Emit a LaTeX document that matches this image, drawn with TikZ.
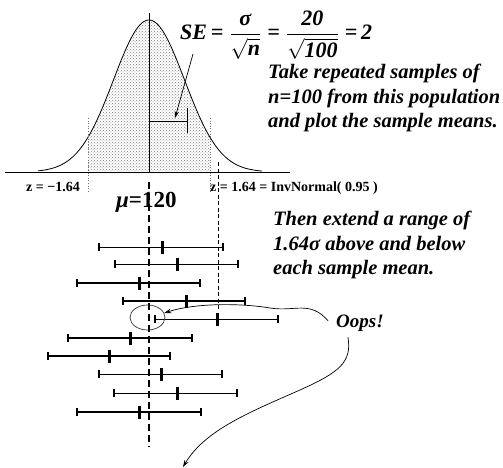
\documentclass[tikz,border=0pt]{standalone}
\usepackage{amsmath}
\usepackage{fontspec}
\setmainfont{Liberation Serif}
\usetikzlibrary{shapes.geometric, arrows.meta, positioning, calc, patterns}

\begin{document}
\begin{tikzpicture}[
    x=1pt, y=-1pt,
    txt/.style={font=\fontsize{20.5}{24.5}\selectfont\bfseries\itshape, align=left, inner sep=0pt, anchor=north west},
    zlab/.style={font=\fontsize{14}{16}\selectfont\bfseries, inner sep=0pt, anchor=base west},
    arrow/.style={-{Stealth[length=7pt, width=4.5pt]}, line width=0.7pt},
    bell/.style={line width=0.8pt},
    edge/.style={black!55, dotted, line width=0.6pt}
]
\useasboundingbox (0,0) rectangle (503,468);

\fill[pattern=crosshatch dots, pattern color=black!50] (88,172) -- plot[domain=88:210, samples=60] (\x, {172-152*exp(-(\x-149)*(\x-149)/2520)}) -- (210,172) -- cycle;
\draw[bell] plot[domain=38:262, samples=120, smooth] (\x, {172-152*exp(-(\x-149)*(\x-149)/2520)});
\draw[edge] (88,118) -- (88,193);
\draw[edge] (210,118) -- (210,193);
\draw[line width=0.9pt] (5,172) -- (290,172);
\draw[line width=0.9pt] (149,13) -- (149,172);
\draw[line width=1.6pt, dash pattern=on 7pt off 4pt] (149,182) -- (149,447);
\draw[line width=0.8pt, dash pattern=on 4pt off 2.5pt] (218,162) -- (218,310);

\draw[line width=0.9pt] (149,121) -- (187,121) (187,108) -- (187,133);

\node[inner sep=0pt, anchor=base west, font=\fontsize{22}{24}\selectfont\bfseries\itshape] (se) at (180,40)
    {SE\,=\;$\dfrac{\text{σ}}{\sqrt{\text{n}}}$\;=\;$\dfrac{\text{20}}{\sqrt{\text{100}}}$\;=\,2};
\coordinate (setail) at (193,54);
\coordinate (setip) at (175,118);
\draw[arrow] (setail) -- (setip);

\node[txt] (take) at (268,64) {Take repeated samples of\\n=100 from this population\\and plot the sample means.};
\node[zlab] (zlo) at (26,191) {z = −1.64};
\node[zlab] (zhi) at (210,191) {z = 1.64 = InvNormal( 0.95 )};
\node[inner sep=0pt, anchor=base west, font=\fontsize{23}{26}\selectfont\bfseries] (mu) at (116,207) {\textit{μ}=120};
\node[txt] (then) at (273,211) {Then extend a range of\\1.64σ above and below\\each sample mean.};

\foreach \ya/\xa/\xm/\xb/\lw in {247/99/162/223/0.8pt, 264/115/177/238/0.8pt, 283/77/139/200/1.1pt,
    301/123/186/245/2pt, 319/155/217/278/0.8pt, 338/68/130/192/1.1pt, 356/48/109/170/2pt,
    374/99/161/222/0.8pt, 393/114/177/237/0.8pt, 412/77/139/201/1.1pt}
{
    \draw[line width=\lw] (\xa,\ya) -- (\xb,\ya);
    \draw[line width=1.4pt] (\xa,\ya-4) -- (\xa,\ya+4) (\xb,\ya-4) -- (\xb,\ya+4);
    \draw[line width=3pt] (\xm,\ya-6.5) -- (\xm,\ya+6.5);
}

\node[draw=black!80, line width=0.7pt, ellipse, inner sep=0pt, minimum width=35pt, minimum height=25pt] (miss) at (147.5,317.5) {};
\node[inner sep=0pt, anchor=base west, font=\fontsize{19}{22}\selectfont\bfseries\itshape] (oops) at (336,327) {Oops!};
\coordinate (far) at (183,467);
\draw[arrow] ($(oops.west)+(-8,-2)$) .. controls (310,300) and (295,312) .. (270,308)
    .. controls (240,303) and (195,303) .. (miss.15);
\draw[arrow] ($(oops.south)+(-12,6)$) .. controls (352,362) and (340,372) .. (300,390)
    .. controls (250,412) and (205,430) .. (far);

\end{tikzpicture}
\end{document}
